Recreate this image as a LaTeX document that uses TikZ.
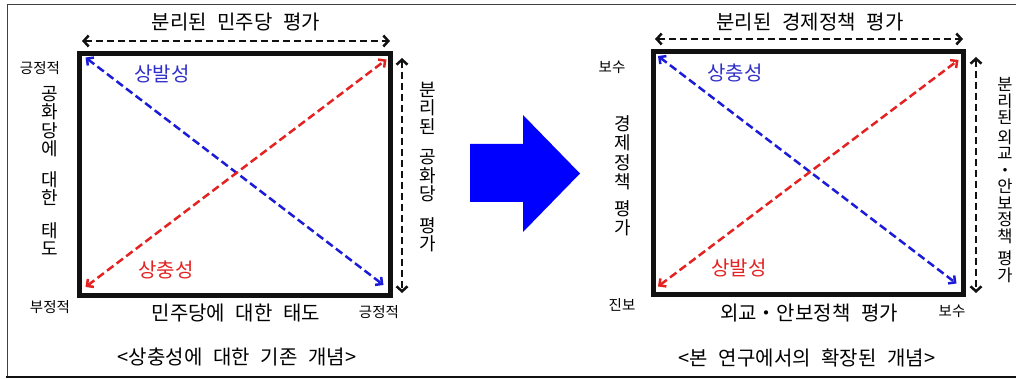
\documentclass[tikz,border=0pt]{standalone}
\usepackage{fontspec}
\setmainfont[WordSpace=2.4]{Noto Sans CJK KR}
\usetikzlibrary{arrows.meta,calc}
\definecolor{cfblue}{HTML}{1C1CD8}
\definecolor{cftxtblue}{HTML}{3030C8}
\definecolor{cfred}{HTML}{E42222}
\definecolor{cfarrow}{HTML}{0000FF}
\definecolor{cfink}{HTML}{111111}
\tikzset{
  box/.style={draw=cfink, line width=5pt, inner sep=0pt, outer sep=0pt},
  dim/.style={{Straight Barb[length=5pt,width=11pt]}-{Straight Barb[length=5pt,width=11pt]}, line width=2.5pt, dash pattern=on 7pt off 4pt, color=cfink},
  diag/.style={{Straight Barb[length=5pt,width=10pt]}-{Straight Barb[length=5pt,width=10pt]}, line width=2.5pt, dash pattern=on 8pt off 4pt},
  ttl/.style={font=\fontsize{20}{23}\selectfont, inner sep=0pt},
  sm/.style={font=\fontsize{14.5}{16}\selectfont, inner sep=0pt},
  vt/.style={align=center, inner sep=0pt, font=\fontsize{18}{18.5}\selectfont},
}

\begin{document}
\begin{tikzpicture}[x=1pt, y=-1pt]
  \useasboundingbox (0,0) rectangle (1016,379);
  % outer frame
  \draw[line width=1pt, black!75] (1016,5) -- (7,5) -- (7,377);
  \draw[line width=2.5pt, cfink] (6,377) -- (1016,377);

  % left panel
  \node[box, minimum width=311pt, minimum height=241.5pt] (b1) at (235,174.25) {};
  \node[ttl] (t1) at (236,22) {분리된 민주당 평가};
  \coordinate (h1a) at (82,41); \coordinate (h1b) at (390,41);
  \coordinate (v1a) at (402,58); \coordinate (v1b) at (402,293);
  \draw[dim] (h1a) -- (h1b);
  \draw[dim] (v1a) -- (v1b);
  \draw[diag, cfblue] ($(b1.north west)+(6,4)$) -- ($(b1.south east)+(-7,-10)$);
  \draw[diag, cfred] ($(b1.south west)+(6,-8)$) -- ($(b1.north east)+(-4,6)$);
  \node[sm] (p1) at (40,68) {긍정적};
  \node[vt] (s1) at (50,171) {공\\화\\당\\에\\[12pt]대\\한\\[14pt]태\\도};
  \node[sm] (n1) at (50,307) {부정적};
  \node[ttl] (x1) at (236,313) {민주당에 대한 태도};
  \node[sm] (p2) at (379,312) {긍정적};
  \node[vt] (s2) at (428,167) {분\\리\\된\\[12pt]공\\화\\당\\[13pt]평\\가};
  \node[ttl, text=cftxtblue] (l1) at (162,74) {상발성};
  \node[ttl, text=cfred] (l2) at (166,270) {상충성};
  \node[ttl] (c1) at (237,357) {<상충성에 대한 기존 개념>};

  % block arrow
  \fill[cfarrow] (470,144) -- (523,144) -- (523,115) -- (580,173.5)
    -- (523,232) -- (523,202) -- (470,202) -- cycle;

  % right panel
  \node[box, minimum width=310.5pt, minimum height=242.5pt] (b2) at (808.25,173.25) {};
  \node[ttl] (t2) at (810,22) {분리된 경제정책 평가};
  \coordinate (h2a) at (655,39); \coordinate (h2b) at (963,39);
  \coordinate (v2a) at (976,57); \coordinate (v2b) at (976,293);
  \draw[dim] (h2a) -- (h2b);
  \draw[dim] (v2a) -- (v2b);
  \draw[diag, cfblue] ($(b2.north west)+(5,4)$) -- ($(b2.south east)+(-7,-11)$);
  \draw[diag, cfred] ($(b2.south west)+(5,-8)$) -- ($(b2.north east)+(-5,8)$);
  \node[sm] (q1) at (612,67) {보수};
  \node[vt, font=\fontsize{18}{19.5}\selectfont] (s3) at (623,176) {경\\제\\정\\책\\[7pt]평\\가};
  \node[sm] (q2) at (622,305) {진보};
  \node[ttl] (x2) at (809,313) {외교・안보정책 평가};
  \node[sm] (q3) at (952,311) {보수};
  \node[vt, font=\fontsize{16.5}{16.5}\selectfont] (s4) at (1005,180) {분\\리\\된\\[3pt]외\\교\\・\\안\\보\\정\\책\\[6pt]평\\가};
  \node[ttl, text=cftxtblue] (l3) at (735,73) {상충성};
  \node[ttl, text=cfred] (l4) at (739,268) {상발성};
  \node[ttl] (c2) at (807,358) {<본 연구에서의 확장된 개념>};
\end{tikzpicture}
\end{document}
